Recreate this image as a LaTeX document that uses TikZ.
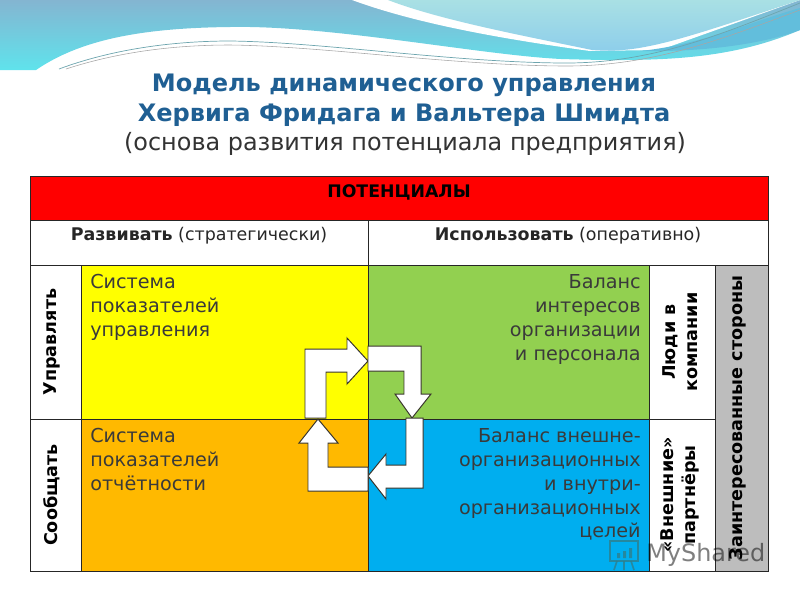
\documentclass[tikz,border=0pt]{standalone}
\usepackage{fontspec}
\setmainfont{DejaVu Sans}
\usepackage{xcolor}
\usepackage{tikz}
\usetikzlibrary{arrows.meta, positioning}
\definecolor{titleblue}{HTML}{1F5F93}
\definecolor{celltxt}{HTML}{3A3A3A}
\definecolor{potred}{HTML}{FF0000}
\definecolor{cellyellow}{HTML}{FFFF00}
\definecolor{cellorange}{HTML}{FFB900}
\definecolor{cellgreen}{HTML}{92D050}
\definecolor{cellblue}{HTML}{00AEEF}
\definecolor{cellgray}{HTML}{BDBDBD}
\definecolor{skytop}{HTML}{84B5D1}
\definecolor{skybot}{HTML}{5FE3EC}
\definecolor{paletop}{HTML}{A9E0E4}
\definecolor{palebot}{HTML}{8CCDEB}
\definecolor{bandblue}{HTML}{62BEDC}
\definecolor{markteal}{HTML}{2F7F8C}
\def\px{0.025cm}
\tikzset{
	cell/.style={draw=black!85, line width=0.6pt, inner sep=0pt, outer sep=0pt, anchor=north west},
	celltext/.style={text=celltxt, font=\fontsize{13.65}{17}\selectfont, inner sep=0pt},
	sidetext/.style={text=black, font=\fontsize{12.5}{15.6}\bfseries\selectfont, rotate=90, align=center, inner sep=0pt},
	headtext/.style={text=black!85, font=\fontsize{12.4}{14}\selectfont, inner sep=0pt},
	title/.style={text=titleblue, font=\fontsize{17.1}{20}\bfseries\selectfont, inner sep=0pt},
	blockarrow/.style={fill=white, draw=black!80!olive, line width=0.7pt, line join=miter},
}
\begin{document}
\begin{tikzpicture}[x=0.025cm, y=-0.025cm]
	\useasboundingbox (0,0) rectangle (800,600);
	% Background waves:
	\shade[top color=skytop, bottom color=skybot]
		(0,0) -- (800,0) -- (800,30) .. controls (730,60) and (660,62) .. (561,59)
		.. controls (480,55) and (330,25) .. (230,27) .. controls (140,28) and (80,40) .. (36,70) -- (0,70) -- cycle;
	\fill[white] (352,0) .. controls (420,25) and (510,40) .. (590,51) -- (660,50) -- (800,0) -- cycle;
	\shade[top color=paletop, bottom color=palebot]
		(388,0) .. controls (440,20) and (520,35) .. (592,50) .. controls (640,54) and (680,40) .. (800,0) -- cycle;
	\fill[bandblue] (640,51) .. controls (700,45) and (750,22) .. (800,8) -- (800,30) .. controls (760,45) and (700,52) .. (640,51) -- cycle;
	\draw[markteal!70, line width=0.5pt] (59,69) .. controls (110,50) and (170,41) .. (230,41)
		.. controls (320,42) and (450,62) .. (561,63) .. controls (650,64) and (720,35) .. (800,3);
	\draw[black!35, line width=0.4pt] (66,69) .. controls (115,53) and (170,45) .. (230,45)
		.. controls (320,46) and (450,65) .. (561,66) .. controls (650,67) and (720,40) .. (800,10);
	% Heading:
	\node[title] (titleone) at (404,85) {Модель динамического управления};
	\node[title] (titletwo) at (404,115) {Хервига Фридага и Вальтера Шмидта};
	\node[title, font=\fontsize{17}{20}\selectfont, text=black!80] (titlethree) at (405,144) {(основа развития потенциала предприятия)};
	% Table:
	\node[cell, fill=potred, minimum width=738*\px, minimum height=44*\px] (potent) at (30,176) {};
	\node[headtext, text=black, font=\fontsize{12.3}{14}\bfseries\selectfont] (potenttext) at (399,192) {ПОТЕНЦИАЛЫ};
	\node[cell, fill=white, minimum width=338*\px, minimum height=45*\px] (develop) at (30,220) {};
	\node[headtext] (developtext) at (199,236) {\textbf{Развивать} (стратегически)};
	\node[cell, fill=white, minimum width=400*\px, minimum height=45*\px] (useit) at (368,220) {};
	\node[headtext] (usetext) at (568,236) {\textbf{Использовать} (оперативно)};
	\node[cell, fill=white, minimum width=51*\px, minimum height=154*\px] (manage) at (30,265) {};
	\node[cell, fill=white, minimum width=51*\px, minimum height=152*\px] (report) at (30,419) {};
	\node[cell, fill=cellyellow, minimum width=287*\px, minimum height=154*\px] (yellow) at (81,265) {};
	\node[cell, fill=cellorange, minimum width=287*\px, minimum height=152*\px] (orange) at (81,419) {};
	\node[cell, fill=cellgreen, minimum width=281*\px, minimum height=154*\px] (green) at (368,265) {};
	\node[cell, fill=cellblue, minimum width=281*\px, minimum height=152*\px] (blue) at (368,419) {};
	\node[cell, fill=white, minimum width=66*\px, minimum height=154*\px] (people) at (649,265) {};
	\node[cell, fill=white, minimum width=66*\px, minimum height=152*\px] (partners) at (649,419) {};
	\node[cell, fill=cellgray, minimum width=53*\px, minimum height=306*\px] (stake) at (715,265) {};
	% Labels:
	\node[sidetext] (managetext) at ([xshift=-4*\px]manage.center) {Управлять};
	\node[sidetext] (reporttext) at ([xshift=-4*\px]report.center) {Сообщать};
	\node[sidetext] (peopletext) at ([xshift=-2*\px]people.center) {Люди в\\компании};
	\node[sidetext] (partnerstext) at ([xshift=-2*\px]partners.center) {«Внешние»\\партнёры};
	\node[sidetext] (staketext) at ([xshift=-4*\px]stake.center) {Заинтересованные стороны};
	\node[celltext, align=left, anchor=north west, xshift=9*\px, yshift=-9*\px] (yellowtext) at (yellow.north west) {Система\\показателей\\управления};
	\node[celltext, align=left, anchor=north west, xshift=9*\px, yshift=-9*\px] (orangetext) at (orange.north west) {Система\\показателей\\отчётности};
	\node[celltext, align=right, anchor=north east, xshift=-8*\px, yshift=-9*\px] (greentext) at (green.north east) {Баланс\\интересов\\организации\\и персонала};
	\node[celltext, align=right, anchor=north east, xshift=-8*\px, yshift=-9*\px] (bluetext) at (blue.north east) {Баланс внешне-\\организационных\\и внутри-\\организационных\\целей};
	% Cycle arrows:
	\draw[blockarrow] (305,349) -- (347,349) -- (347,338) -- (368,361) -- (347,384) -- (347,372) -- (326,372) -- (326,418) -- (305,418) -- cycle;
	\draw[blockarrow] (368,346) -- (421,346) -- (421,394) -- (431,394) -- (412,418) -- (395,394) -- (404,394) -- (404,371) -- (368,371) -- cycle;
	\draw[blockarrow] (406,418) -- (423,418) -- (423,488) -- (386,488) -- (386,499) -- (368,476) -- (386,454) -- (386,465) -- (406,465) -- cycle;
	\draw[blockarrow] (368,467) -- (328,467) -- (328,443) -- (338,443) -- (318,419) -- (299,443) -- (308,443) -- (308,491) -- (368,491) -- cycle;
	% Watermark:
	\node[text=black, opacity=0.5, font=\fontsize{17}{20}\selectfont, anchor=west, inner sep=0pt] (markname) at (646,555) {MyShared};
	\draw[markteal, line width=1.2pt, opacity=0.8] (610,541) rectangle (638,561);
	\draw[markteal, line width=1.2pt, opacity=0.8] (617,561) -- (614,570) (631,561) -- (634,570) (624,561) -- (624,570);
	\fill[markteal, opacity=0.8] (617,553) rectangle (620,558) (623,551) rectangle (626,558) (629,548) rectangle (632,558);
\end{tikzpicture}
\end{document}
